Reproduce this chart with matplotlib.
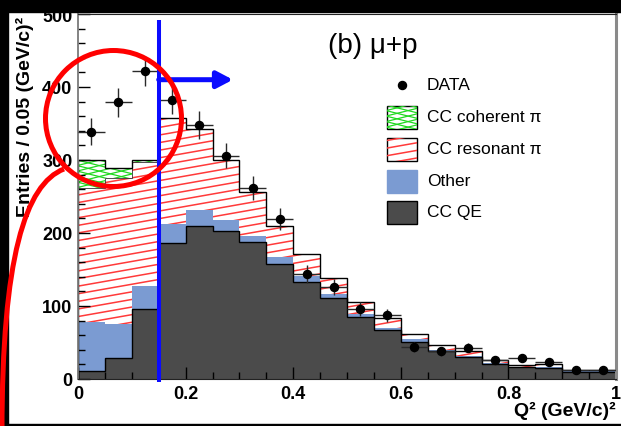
import numpy as np
import matplotlib
matplotlib.use("Agg")
import matplotlib.pyplot as plt
from matplotlib.patches import Rectangle, Ellipse, PathPatch
from matplotlib.path import Path
from matplotlib.collections import LineCollection
from matplotlib.transforms import IdentityTransform
from matplotlib.ticker import MultipleLocator, FixedLocator, FixedFormatter

plt.rcParams["font.family"] = ["Liberation Sans", "DejaVu Sans"]

# Q^2 binning, (GeV/c)^2
bin_edges = np.round(np.arange(0.0, 1.0001, 0.05), 2)

# Monte Carlo components per bin (stacked bottom to top)
cc_qe = [11, 29, 96, 186, 209, 203, 187, 157, 133, 111, 85, 67, 51, 38, 30, 20, 16, 15, 10, 10]
other = [67, 47, 31, 27, 22, 15, 9, 10, 8, 5, 4, 3, 4, 2, 2, 2, 1, 2, 2, 1]
cc_res = [183, 199, 170, 144, 112, 82, 60, 42, 30, 22, 16, 14, 7, 7, 7, 4, 2, 3, 0, 1]
cc_coh = [39, 14, 3, 1, 0, 0, 0, 0, 0, 0, 0, 0, 0, 0, 0, 0, 0, 0, 0, 0]

# Observed entries per bin
data = [339, 379, 422, 382, 348, 306, 262, 219, 144, 126, 96, 87, 44, 38, 43, 26, 29, 23, 12, 12]

x_ticks = [0.0, 0.2, 0.4, 0.6, 0.8, 1.0]
x_tick_labels = ["0", "0.2", "0.4", "0.6", "0.8", "1"]
y_ticks = [0, 100, 200, 300, 400, 500]
legend_labels = ["DATA", "CC coherent \u03c0", "CC resonant \u03c0", "Other", "CC QE"]
q2_cut = 0.15

W, H = 621, 427
fig = plt.figure(figsize=(W / 100, H / 100), dpi=100, facecolor="white")
ax = fig.add_axes([78 / W, 1 - 380 / H, (616 - 78) / W, (380 - 15) / H])

qe = np.array(cc_qe, float)
oth = np.array(other, float)
res = np.array(cc_res, float)
coh = np.array(cc_coh, float)
top_qe = qe
top_oth = top_qe + oth
top_res = top_oth + res
top_tot = top_res + coh

C_QE = "#4b4b4b"
C_OTHER = "#7b9bd2"
RED = "#ff3a3a"
GREEN = "#1fd81f"


def hatch_lines(axis, clip_patch, angle_deg, spacing, color, lw, zorder, alpha=1.0):
    """Parallel lines across the whole figure (pixel space), clipped to a patch."""
    s = np.tan(np.radians(angle_deg))
    lo = -abs(s) * W - spacing
    hi = H + abs(s) * W + spacing
    offsets = np.arange(lo, hi, spacing)
    segs = [[(0, c), (W, c + s * W)] for c in offsets]
    lc = LineCollection(segs, colors=color, linewidths=lw, alpha=alpha,
                        transform=IdentityTransform(), zorder=zorder)
    axis.add_collection(lc, autolim=False)
    lc.set_clip_path(clip_patch)
    return lc


# stacked histogram fills
ax.stairs(top_qe, bin_edges, baseline=0, fill=True, color=C_QE, lw=0, zorder=1)
ax.stairs(top_oth, bin_edges, baseline=top_qe, fill=True, color=C_OTHER, lw=0, zorder=1)
res_patch = ax.stairs(top_res, bin_edges, baseline=top_oth, fill=True,
                      facecolor="white", lw=0, zorder=1)
coh_patch = ax.stairs(top_tot, bin_edges, baseline=top_res, fill=True,
                      facecolor="white", lw=0, zorder=1)
hatch_lines(ax, res_patch, 10, 7.6, RED, 1.1, 1.5)
hatch_lines(ax, coh_patch, 14, 5.5, GREEN, 0.9, 1.5)
hatch_lines(ax, coh_patch, -14, 5.5, GREEN, 0.9, 1.5)

# outlines
ax.stairs(top_qe, bin_edges, color="black", lw=1.0, zorder=2)
ax.stairs(top_res, bin_edges, color="#333333", lw=0.6, zorder=2)
ax.stairs(top_tot, bin_edges, color="black", lw=1.0, zorder=2)

# data with statistical errors
centers = 0.5 * (bin_edges[:-1] + bin_edges[1:])
d = np.array(data, float)
ax.errorbar(centers, d, xerr=0.025, yerr=np.sqrt(d), fmt="o", color="black",
            ms=5.8, ecolor="#2a2a2a", elinewidth=1.0, capsize=0, zorder=3)

# Q^2 cut and selection direction
ax.vlines(q2_cut, -4, 492, color="#0b0bff", lw=2.9, zorder=4, clip_on=False)
ax.annotate("", xy=(0.288, 410), xytext=(q2_cut, 410),
            arrowprops=dict(arrowstyle="-|>,head_length=0.95,head_width=0.5",
                            color="#0b0bff", lw=3.6, shrinkA=0, shrinkB=0),
            zorder=4)

# axes, ticks
ax.set_xlim(0, 1)
ax.set_ylim(0, 500)
ax.xaxis.set_major_locator(FixedLocator(x_ticks))
ax.xaxis.set_major_formatter(FixedFormatter(x_tick_labels))
ax.xaxis.set_minor_locator(MultipleLocator(0.05))
ax.yaxis.set_major_locator(FixedLocator(y_ticks))
ax.yaxis.set_minor_locator(MultipleLocator(20))
ax.tick_params(which="both", direction="in", top=False, right=False, color="black")
ax.tick_params(which="major", length=8.5, width=1.0, labelsize=13, pad=4)
ax.tick_params(which="minor", length=5, width=1.0)
for lab in ax.get_xticklabels() + ax.get_yticklabels():
    lab.set_fontweight("bold")
ax.spines["left"].set_color("#7a7a7a")
ax.spines["left"].set_linewidth(1.3)
ax.spines["right"].set_color("#8a8a8a")
ax.spines["right"].set_linewidth(2.2)
ax.spines["top"].set_color("#222222")
ax.spines["bottom"].set_color("#222222")

ax.set_ylabel("Entries / 0.05 (GeV/c)\u00b2", fontsize=14, fontweight="bold", loc="top")
ax.yaxis.set_label_coords((34 - 78) / 538, 0.995)
ax.set_xlabel("Q\u00b2 (GeV/c)\u00b2", fontsize=14, fontweight="bold", loc="right")
ax.xaxis.set_label_coords(1.0, -(402 - 380) / 365)

# title tag
fig.text(328 / W, 1 - 53 / H, "(b) \u03bc+p", fontsize=20, va="baseline", ha="left")

# legend
def ax_xy(px, py):
    return (px - 78) / 538, (380 - py) / 365

rows = [86, 118, 150, 182, 213]
bx0, bw, bh = 387, 30, 23
for label, py in zip(legend_labels, rows):
    tx, ty = ax_xy(427, py)
    ax.text(tx, ty, label, transform=ax.transAxes, fontsize=12.5, va="center", ha="left", zorder=6)

mx, my = ax_xy(402, rows[0])
ax.plot([mx], [my], "o", color="black", ms=5.8, transform=ax.transAxes, clip_on=False, zorder=6)

def legend_box(py, face, edge):
    x0, y0 = ax_xy(bx0, py + bh / 2)
    r = Rectangle((x0, y0), bw / 538, bh / 365, transform=ax.transAxes,
                  facecolor=face, edgecolor=edge, lw=1.0, zorder=5)
    ax.add_patch(r)
    return r

b_coh = legend_box(rows[1], "white", "black")
hatch_lines(ax, b_coh, 14, 5.5, GREEN, 0.9, 5.5)
hatch_lines(ax, b_coh, -14, 5.5, GREEN, 0.9, 5.5)
b_res = legend_box(rows[2], "white", "black")
hatch_lines(ax, b_res, 10, 7.6, RED, 1.1, 5.5)
legend_box(rows[3], C_OTHER, C_OTHER)
legend_box(rows[4], C_QE, "black")

# slide border strips
fig.add_artist(Rectangle((0, 1 - 13 / H), 1, 13 / H, transform=fig.transFigure,
                         color="black", zorder=10))
fig.add_artist(Rectangle((0, 0), 8 / W, 1, transform=fig.transFigure,
                         color="black", zorder=10))
fig.add_artist(Rectangle((0, 0), 1, 2.5 / H, transform=fig.transFigure,
                         color="black", zorder=10))

# highlight ring and pointer stroke
def fxy(px, py):
    return px / W, 1 - py / H

cx, cy = fxy(113.5, 119.5)
fig.add_artist(Ellipse((cx, cy), 136 / W, 136 / H, transform=fig.transFigure,
                       fill=False, edgecolor="#ff0000", lw=3.6, zorder=12))
pts = [fxy(64, 170), fxy(25, 185), fxy(2, 260), fxy(2, 432)]
curve = Path(pts, [Path.MOVETO, Path.CURVE4, Path.CURVE4, Path.CURVE4])
fig.add_artist(PathPatch(curve, transform=fig.transFigure, fill=False,
                         edgecolor="#ff0000", lw=3.6, zorder=12))

fig.savefig("out.png", dpi=100)
